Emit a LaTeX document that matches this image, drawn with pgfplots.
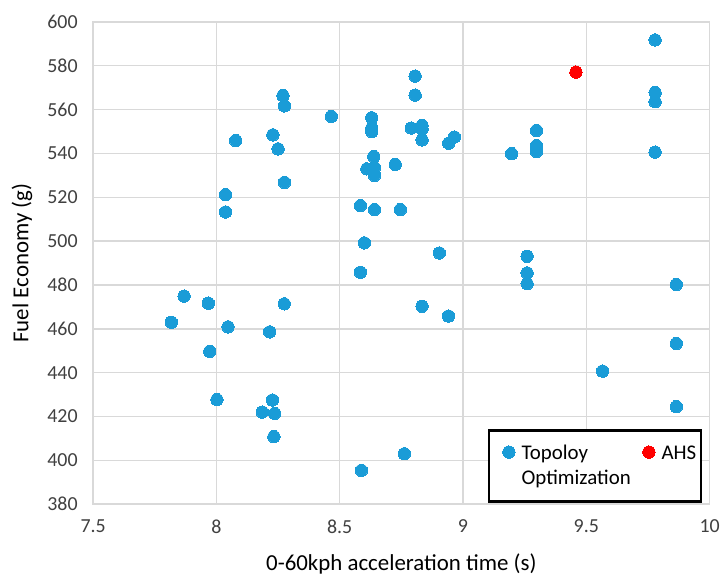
\documentclass[border=0pt]{standalone}
\usepackage{pgfplots}
\pgfplotsset{compat=1.18}
\usepackage{fontspec}
\setmainfont{Carlito}
\definecolor{ptblue}{RGB}{26,156,215}
\definecolor{gridgray}{RGB}{217,217,217}
\definecolor{txt}{RGB}{64,64,64}
\pgfplotsset{
  padded legend/.style={legend image code/.code={\path (-9.5bp,0bp) (13bp,0bp); \draw[##1] plot coordinates {(6.5bp,7.5bp)};}},
  plain legend/.style={legend image code/.code={\path (0bp,0bp) (13bp,0bp); \draw[##1] plot coordinates {(6.5bp,7.5bp)};}},
}
\begin{document}
\begin{tikzpicture}
\begin{axis}[
  scale only axis,
  width=617.5bp, height=483bp,
  at={(0,0)}, anchor=south west,
  xmin=7.5, xmax=10, ymin=380, ymax=600,
  xtick={7.5,8,8.5,9,9.5,10},
  ytick={380,400,...,600},
  xticklabels={7.5,8,8.5,9,9.5,10},
  grid=major,
  major grid style={gridgray, line width=1.4bp},
  axis line style={gridgray, line width=1.4bp},
  tick style={draw=none},
  /pgf/number format/assume math mode=true,
  ticklabel style={font=\fontsize{20}{24}\selectfont, text=txt},
  yticklabel style={xshift=-12bp},
  xticklabel style={yshift=-12bp},
  xlabel={0-60kph acceleration time (s)},
  ylabel={Fuel Economy (g)},
  every axis x label/.style={at={(axis description cs:0.5,-0.124)}, anchor=center},
  every axis y label/.style={at={(axis description cs:-0.1155,0.5)}, anchor=center, rotate=90},
  label style={font=\fontsize{23}{27}\selectfont, text=black},
  legend columns=2,
  legend style={at={(0.9877,0.003)}, anchor=south east, draw=black, line width=2.4bp,
    font=\fontsize{21}{26}\selectfont, cells={anchor=base west},
    nodes={inner sep=2bp, text height=16bp, text depth=4.5bp},
    inner xsep=2.5bp, inner ysep=11bp, row sep=0bp,
    /tikz/column 1/.style={column sep=3bp},
    /tikz/column 2/.style={column sep=8.5bp},
    /tikz/column 3/.style={column sep=3bp}},
]
\addplot[only marks, mark=*, mark size=6.2bp, mark options={draw=ptblue, fill=ptblue, line width=0pt},
  padded legend] coordinates {
(8.078,545.9) (8.270,566.4) (8.276,561.7) (8.466,556.9) (8.229,548.5)
(8.250,542.1) (8.276,526.8) (8.037,521.2) (8.037,513.3) (8.630,556.3)
(8.630,551.6) (8.630,550.0) (8.638,538.6) (8.610,533.0) (8.641,533.6)
(8.641,530.0) (8.584,516.2) (8.641,514.4) (8.600,499.2) (9.779,591.8)
(8.806,575.3) (8.806,566.6) (9.779,567.8) (9.779,563.6) (8.790,551.6)
(8.834,552.8) (8.834,551.1) (8.834,546.2) (8.942,544.7) (8.965,547.5)
(9.298,550.5) (9.298,543.6) (9.298,540.9) (9.197,539.9) (9.779,540.6)
(8.725,535.0) (8.746,514.4) (8.904,494.6) (9.260,493.1) (9.260,485.5)
(9.260,480.6) (9.865,480.2) (8.834,470.3) (8.941,465.8) (9.865,453.3)
(9.566,440.7) (9.865,424.5) (8.762,403.0) (7.869,474.9) (7.817,463.0)
(7.967,471.7) (8.047,460.9) (7.973,449.7) (8.275,471.4) (8.216,458.6)
(8.002,427.7) (8.227,427.5) (8.186,422.0) (8.236,421.4) (8.233,410.8)
(8.584,485.8) (8.588,395.4)
};
\addlegendentry{Topoloy}
\addplot[only marks, mark=*, mark size=6.2bp, mark options={draw=red, fill=red, line width=0pt},
  plain legend] coordinates {
(9.458,577.1)
};
\addlegendentry{AHS}
\addlegendimage{empty legend}
\addlegendentry{Optimization}
\addlegendimage{empty legend}
\addlegendentry{\strut}
\end{axis}
\path[use as bounding box] (-93.3bp,-71bp) rectangle (629.7bp,505bp);
\end{tikzpicture}
\end{document}
